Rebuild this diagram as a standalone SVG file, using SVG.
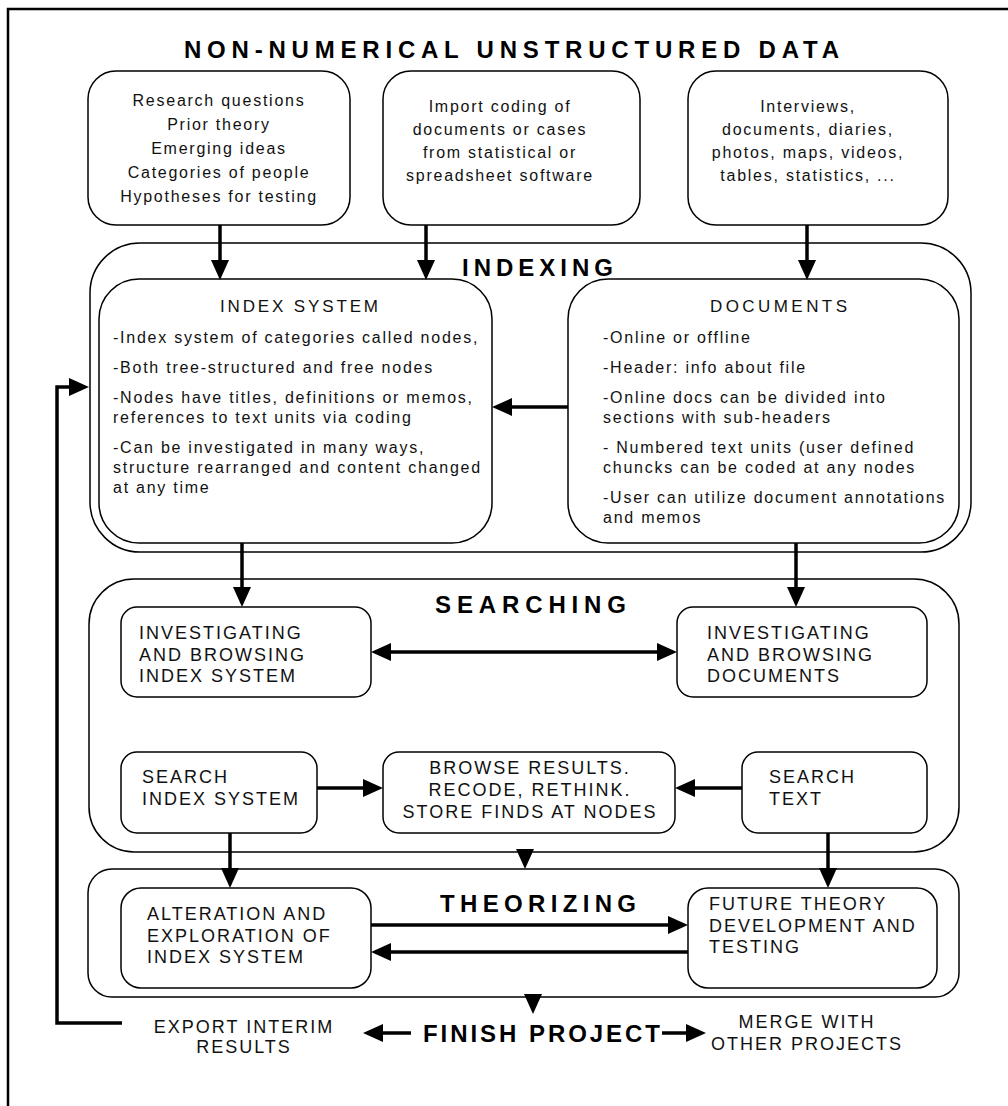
<svg xmlns="http://www.w3.org/2000/svg" width="1008" height="1106" viewBox="0 0 1008 1106">
  <defs>
    <style>
      .box { fill: #fff; stroke: #000; stroke-width: 1.5; }
      .conn { fill: none; stroke: #000; stroke-width: 3.5; }
      .frame { fill: none; stroke: #000; stroke-width: 2.5; }
      .head { font-family: "Liberation Sans", Arial, sans-serif; font-weight: bold; font-size: 24px; fill: #000; }
      .sub { font-family: "Liberation Sans", Arial, sans-serif; font-size: 17px; fill: #111; }
      .body { font-family: "Liberation Sans", Arial, sans-serif; font-size: 16px; letter-spacing: 1.75px; fill: #111; }
      .caps { font-family: "Liberation Sans", Arial, sans-serif; font-size: 18px; letter-spacing: 2px; fill: #111; }
      .mid { text-anchor: middle; }
    </style>
    <marker id="arrow" viewBox="0 0 20 18" refX="12" refY="9" markerWidth="20" markerHeight="18" markerUnits="userSpaceOnUse" orient="auto-start-reverse">
      <path d="M0,0 L20,9 L0,18 Z" fill="#000"/>
    </marker>
  </defs>

  <rect width="1008" height="1106" fill="#fff"/>

  <!-- page frame: top and left edges only -->
  <path class="frame" d="M8,1106 V9 H1008"/>

  <!-- title -->
  <text class="head" x="184" y="58" textLength="655" lengthAdjust="spacing">NON-NUMERICAL UNSTRUCTURED DATA</text>

  <!-- source boxes -->
  <g id="sources-questions">
    <rect class="box" x="88" y="71" width="262" height="154" rx="28"/>
    <text class="body mid" x="219" y="106">Research questions</text>
    <text class="body mid" x="219" y="130">Prior theory</text>
    <text class="body mid" x="219" y="154">Emerging ideas</text>
    <text class="body mid" x="219" y="178">Categories of people</text>
    <text class="body mid" x="219" y="202">Hypotheses for testing</text>
  </g>
  <g id="sources-import">
    <rect class="box" x="383" y="71" width="257" height="154" rx="28"/>
    <text class="body mid" x="500" y="112">Import coding of</text>
    <text class="body mid" x="500" y="135">documents or cases</text>
    <text class="body mid" x="500" y="158">from statistical or</text>
    <text class="body mid" x="500" y="181">spreadsheet software</text>
  </g>
  <g id="sources-data">
    <rect class="box" x="688" y="71" width="260" height="154" rx="28"/>
    <text class="body mid" x="808" y="112">Interviews,</text>
    <text class="body mid" x="808" y="135">documents, diaries,</text>
    <text class="body mid" x="808" y="158">photos, maps, videos,</text>
    <text class="body mid" x="808" y="181">tables, statistics, ...</text>
  </g>

  <!-- indexing stage -->
  <g id="indexing">
    <rect class="box" x="90" y="243" width="881" height="309" rx="50"/>
    <text class="head" x="462" y="276" textLength="151" lengthAdjust="spacing">INDEXING</text>
  </g>
  <g id="index-system">
    <rect class="box" x="99" y="279" width="393" height="264" rx="40"/>
    <text class="sub" x="220" y="312" textLength="158" lengthAdjust="spacing">INDEX SYSTEM</text>
    <text class="body" x="113" y="343">-Index system of categories called nodes,</text>
    <text class="body" x="113" y="373">-Both tree-structured and free nodes</text>
    <text class="body" x="113" y="403">-Nodes have titles, definitions or memos,</text>
    <text class="body" x="113" y="423">references to text units via coding</text>
    <text class="body" x="113" y="453">-Can be investigated in many ways,</text>
    <text class="body" x="113" y="473">structure rearranged and content changed</text>
    <text class="body" x="113" y="493">at any time</text>
  </g>
  <g id="documents">
    <rect class="box" x="568" y="279" width="391" height="264" rx="40"/>
    <text class="sub" x="710" y="312" textLength="137" lengthAdjust="spacing">DOCUMENTS</text>
    <text class="body" x="603" y="343">-Online or offline</text>
    <text class="body" x="603" y="373">-Header: info about file</text>
    <text class="body" x="603" y="403">-Online docs can be divided into</text>
    <text class="body" x="603" y="423">sections with sub-headers</text>
    <text class="body" x="603" y="453">- Numbered text units (user defined</text>
    <text class="body" x="603" y="473">chuncks can be coded at any nodes</text>
    <text class="body" x="603" y="503">-User can utilize document annotations</text>
    <text class="body" x="603" y="523">and memos</text>
  </g>

  <!-- searching stage -->
  <g id="searching">
    <rect class="box" x="89" y="579" width="870" height="273" rx="45"/>
    <text class="head" x="435" y="613" textLength="191" lengthAdjust="spacing">SEARCHING</text>
  </g>
  <g id="browse-index">
    <rect class="box" x="121" y="607" width="250" height="90" rx="16"/>
    <text class="caps" x="139" y="639">INVESTIGATING</text>
    <text class="caps" x="139" y="661">AND BROWSING</text>
    <text class="caps" x="139" y="682">INDEX SYSTEM</text>
  </g>
  <g id="browse-docs">
    <rect class="box" x="677" y="607" width="250" height="90" rx="16"/>
    <text class="caps" x="707" y="639">INVESTIGATING</text>
    <text class="caps" x="707" y="661">AND BROWSING</text>
    <text class="caps" x="707" y="682">DOCUMENTS</text>
  </g>
  <g id="search-index">
    <rect class="box" x="121" y="752" width="196" height="81" rx="16"/>
    <text class="caps" x="142" y="783">SEARCH</text>
    <text class="caps" x="142" y="805">INDEX SYSTEM</text>
  </g>
  <g id="browse-results">
    <rect class="box" x="383" y="752" width="292" height="81" rx="16"/>
    <text class="caps mid" x="530" y="774">BROWSE RESULTS.</text>
    <text class="caps mid" x="530" y="796">RECODE, RETHINK.</text>
    <text class="caps mid" x="530" y="818">STORE FINDS AT NODES</text>
  </g>
  <g id="search-text">
    <rect class="box" x="742" y="752" width="185" height="81" rx="16"/>
    <text class="caps" x="769" y="783">SEARCH</text>
    <text class="caps" x="769" y="805">TEXT</text>
  </g>

  <!-- theorizing stage -->
  <g id="theorizing">
    <rect class="box" x="88" y="869" width="871" height="128" rx="24"/>
    <text class="head" x="440" y="912" textLength="196" lengthAdjust="spacing">THEORIZING</text>
  </g>
  <g id="alteration">
    <rect class="box" x="121" y="888" width="250" height="100" rx="20"/>
    <text class="caps" x="147" y="920">ALTERATION AND</text>
    <text class="caps" x="147" y="942">EXPLORATION OF</text>
    <text class="caps" x="147" y="963">INDEX SYSTEM</text>
  </g>
  <g id="future-theory">
    <rect class="box" x="688" y="888" width="249" height="100" rx="20"/>
    <text class="caps" x="709" y="910">FUTURE THEORY</text>
    <text class="caps" x="709" y="932">DEVELOPMENT AND</text>
    <text class="caps" x="709" y="953">TESTING</text>
  </g>

  <!-- final outputs -->
  <g id="finish">
    <text class="head" x="423" y="1042" textLength="237" lengthAdjust="spacing">FINISH PROJECT</text>
  </g>
  <g id="export">
    <text class="caps mid" x="244" y="1033">EXPORT INTERIM</text>
    <text class="caps mid" x="244" y="1053">RESULTS</text>
  </g>
  <g id="merge">
    <text class="caps mid" x="807" y="1028">MERGE WITH</text>
    <text class="caps mid" x="807" y="1050">OTHER PROJECTS</text>
  </g>

  <!-- connectors -->
  <g id="connectors">
    <path class="conn" d="M220,225 V272" marker-end="url(#arrow)"/>
    <path class="conn" d="M426,225 V272" marker-end="url(#arrow)"/>
    <path class="conn" d="M807,225 V272" marker-end="url(#arrow)"/>
    <path class="conn" d="M568,407 H500" marker-end="url(#arrow)"/>
    <path class="conn" d="M242,543 V599" marker-end="url(#arrow)"/>
    <path class="conn" d="M796,543 V599" marker-end="url(#arrow)"/>
    <path class="conn" d="M379,652 H669" marker-start="url(#arrow)" marker-end="url(#arrow)"/>
    <path class="conn" d="M317,788 H375" marker-end="url(#arrow)"/>
    <path class="conn" d="M742,788 H683" marker-end="url(#arrow)"/>
    <path class="conn" d="M230,833 V880" marker-end="url(#arrow)"/>
    <path class="conn" d="M525,852 V861" marker-end="url(#arrow)"/>
    <path class="conn" d="M828,833 V880" marker-end="url(#arrow)"/>
    <path class="conn" d="M371,925 H680" marker-end="url(#arrow)"/>
    <path class="conn" d="M688,952 H379" marker-end="url(#arrow)"/>
    <path class="conn" d="M533,997 V1006" marker-end="url(#arrow)"/>
    <path class="conn" d="M411,1033 H371" marker-end="url(#arrow)"/>
    <path class="conn" d="M662,1033 H698" marker-end="url(#arrow)"/>
    <path class="conn" d="M122,1023 H57 V387 H81" marker-end="url(#arrow)"/>
  </g>
</svg>
